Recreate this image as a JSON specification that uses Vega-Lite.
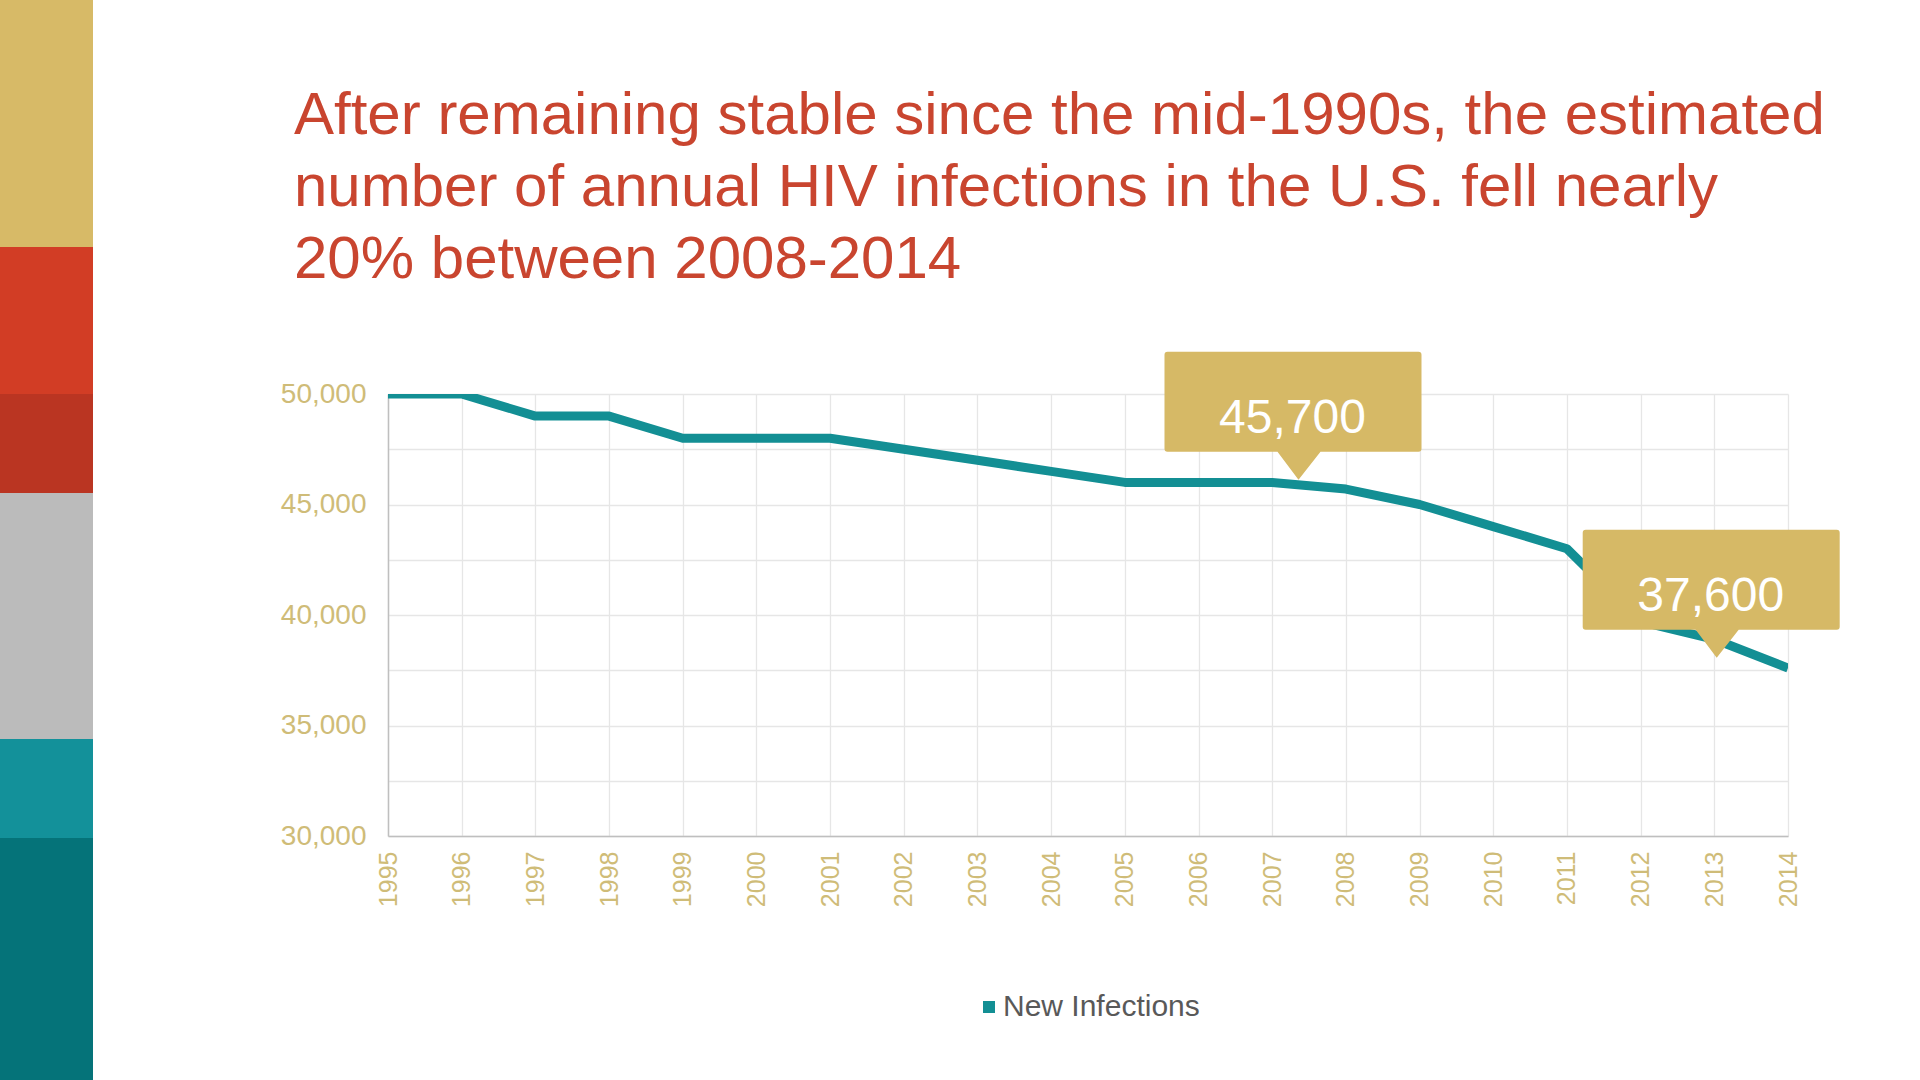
{
  "$schema": "https://vega.github.io/schema/vega-lite/v6.json",
  "autosize": {"type": "none"},
  "width": 1400,
  "height": 442,
  "padding": {"left": 388, "top": 394, "right": 132, "bottom": 244},
  "background": "#FFFFFF",
  "datasets": {
    "bands": [
      {"band": "b1", "start": 0, "end": 247},
      {"band": "b2", "start": 247, "end": 394},
      {"band": "b3", "start": 394, "end": 493},
      {"band": "b4", "start": 493, "end": 739},
      {"band": "b5", "start": 739, "end": 838},
      {"band": "b6", "start": 838, "end": 1080}
    ],
    "hiv": [
      {"year": 1995, "value": 50000},
      {"year": 1996, "value": 50000},
      {"year": 1997, "value": 49000},
      {"year": 1998, "value": 49000},
      {"year": 1999, "value": 48000},
      {"year": 2000, "value": 48000},
      {"year": 2001, "value": 48000},
      {"year": 2002, "value": 47500},
      {"year": 2003, "value": 47000},
      {"year": 2004, "value": 46500},
      {"year": 2005, "value": 46000},
      {"year": 2006, "value": 46000},
      {"year": 2007, "value": 46000},
      {"year": 2008, "value": 45700},
      {"year": 2009, "value": 45000},
      {"year": 2010, "value": 44000},
      {"year": 2011, "value": 43000},
      {"year": 2012, "value": 39700},
      {"year": 2013, "value": 38900},
      {"year": 2014, "value": 37600}
    ]
  },
  "title": {
    "text": [
      "After remaining stable since the mid-1990s, the estimated",
      "number of annual HIV infections in the U.S. fell nearly",
      "20% between 2008-2014"
    ],
    "anchor": "start",
    "frame": "group",
    "dx": -94,
    "offset": -291,
    "fontSize": 60,
    "font": "Liberation Sans",
    "fontWeight": "normal",
    "color": "#C9452F",
    "lineHeight": 72
  },
  "config": {
    "view": {"stroke": null},
    "font": "Liberation Sans"
  },
  "resolve": {"scale": {"x": "independent", "y": "independent", "color": "independent"}},
  "layer": [
    {
      "data": {"name": "bands"},
      "mark": {"type": "rect"},
      "encoding": {
        "x": {"datum": 0, "type": "quantitative", "scale": {"domain": [0, 1], "range": [-388, -295], "nice": false, "zero": false}, "axis": null},
        "x2": {"datum": 1},
        "y": {"field": "start", "type": "quantitative", "scale": {"domain": [0, 1080], "range": [-394, 686], "nice": false, "zero": false}, "axis": null},
        "y2": {"field": "end"},
        "color": {
          "field": "band", "type": "nominal",
          "scale": {"domain": ["b1", "b2", "b3", "b4", "b5", "b6"], "range": ["#D7BA67", "#D23D25", "#BA3522", "#BBBBBB", "#13919A", "#057379"]},
          "legend": null
        }
      }
    },
    {
      "data": {"name": "hiv"},
      "encoding": {
        "x": {
          "field": "year", "type": "quantitative",
          "scale": {"domain": [1995, 2014], "nice": false, "zero": false},
          "axis": {
            "title": null,
            "grid": true,
            "values": [1995, 1996, 1997, 1998, 1999, 2000, 2001, 2002, 2003, 2004, 2005, 2006, 2007, 2008, 2009, 2010, 2011, 2012, 2013, 2014],
            "format": "d",
            "labelAngle": -90,
            "labelFontSize": 25,
            "labelFont": "Liberation Sans",
            "labelColor": "#CFBC78",
            "labelPadding": 15,
            "labelFlush": false,
            "labelOverlap": false,
            "ticks": false,
            "domainColor": "#BFBFBF",
            "domainWidth": 1.5,
            "gridColor": "#E6E6E6",
            "gridWidth": 1.3
          }
        },
        "y": {
          "field": "value", "type": "quantitative",
          "scale": {"domain": [30000, 50000], "nice": false, "zero": false},
          "axis": {
            "title": null,
            "grid": true,
            "values": [30000, 32500, 35000, 37500, 40000, 42500, 45000, 47500, 50000],
            "format": ",d",
            "labelExpr": "datum.value % 5000 == 0 ? datum.label : ''",
            "labelFontSize": 28,
            "labelFont": "Liberation Sans",
            "labelColor": "#CFBC78",
            "labelPadding": 22,
            "labelFlush": false,
            "labelOverlap": false,
            "ticks": false,
            "domainColor": "#BFBFBF",
            "domainWidth": 1.5,
            "gridColor": "#E6E6E6",
            "gridWidth": 1.3
          }
        }
      },
      "layer": [
        {
          "mark": {"type": "line", "clip": true, "strokeWidth": 9, "strokeJoin": "round", "strokeCap": "butt"},
          "encoding": {
            "color": {
              "datum": "New Infections",
              "type": "nominal",
              "scale": {"range": ["#138F94"]},
              "legend": {
                "title": null,
                "orient": "none",
                "legendX": 586,
                "legendY": 598,
                "padding": 0,
                "symbolType": "square",
                "symbolSize": 144,
                "symbolStrokeWidth": 0,
                "labelFontSize": 30,
                "labelFont": "Liberation Sans",
                "labelColor": "#595959",
                "labelOffset": -1,
                "labelLimit": 0,
                "encode": {"symbols": {"update": {"fill": {"value": "#138F94"}, "stroke": {"value": "transparent"}, "opacity": {"value": 1}}}}
              }
            }
          }
        },
        {
          "transform": [{"filter": "datum.year == 2008 || datum.year == 2014"}],
          "mark": {
            "type": "point",
            "shape": "M0,0 L-21,-28 L-131,-28 Q-134,-28 -134,-31 L-134,-125 Q-134,-128 -131,-128 L120,-128 Q123,-128 123,-125 L123,-31 Q123,-28 120,-28 L22,-28 Z",
            "size": 4,
            "filled": true,
            "color": "#D6B966",
            "opacity": 1,
            "strokeWidth": 0,
            "xOffset": {"expr": "datum.year == 2008 ? -47.4 : -71.3"},
            "yOffset": {"expr": "datum.year == 2008 ? -9.4 : -10.3"}
          }
        },
        {
          "transform": [{"filter": "datum.year == 2008 || datum.year == 2014"}],
          "mark": {
            "type": "text",
            "font": "Liberation Sans",
            "fontSize": 48,
            "color": "#FFFFFF",
            "align": "center",
            "baseline": "alphabetic",
            "xOffset": {"expr": "datum.year == 2008 ? -53.4 : -77.3"},
            "yOffset": {"expr": "datum.year == 2008 ? -56.4 : -57.3"}
          },
          "encoding": {
            "text": {"field": "value", "type": "quantitative", "format": ","}
          }
        }
      ]
    }
  ]
}
